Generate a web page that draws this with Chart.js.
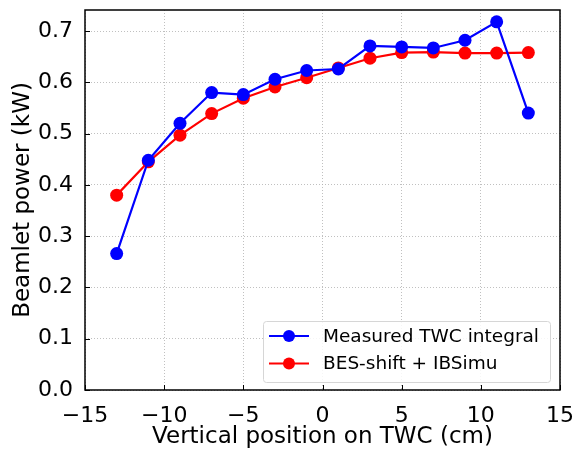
<!DOCTYPE html>
<html>
<head>
<meta charset="utf-8">
<script src="https://cdn.jsdelivr.net/npm/chart.js@4"></script>
<style>
  html, body { margin: 0; padding: 0; background: #fff; }
  #wrap { width: 576px; height: 449px; }
</style>
</head>
<body>
<div id="wrap"><canvas id="chart" width="576" height="449"></canvas></div>
<script>
// positions on the TWC (cm)
var positions = [-13, -11, -9, -7, -5, -3, -1, 1, 3, 5, 7, 9, 11, 13];
// beamlet power (kW)
var measured = [0.266, 0.448, 0.520, 0.580, 0.576, 0.606, 0.623, 0.626, 0.671, 0.669, 0.667, 0.682, 0.718, 0.540];
var simulated = [0.380, 0.445, 0.497, 0.539, 0.569, 0.591, 0.609, 0.628, 0.647, 0.658, 0.659, 0.657, 0.657, 0.658];
var xTicks = [-15, -10, -5, 0, 5, 10, 15];
var yTicks = [0.0, 0.1, 0.2, 0.3, 0.4, 0.5, 0.6, 0.7];

var FONT = "'DejaVu Sans', sans-serif";

function pts(ys) {
  return positions.map(function (x, i) { return { x: x, y: ys[i] }; });
}

// inward ticks, frame and legend box, matplotlib style
var decor = {
  id: 'decor',
  afterDraw: function (chart) {
    var ctx = chart.ctx, a = chart.chartArea;
    var xs = chart.scales.x, ys = chart.scales.y;
    ctx.save();
    ctx.strokeStyle = '#000';
    ctx.lineWidth = 1;
    ctx.beginPath();
    xTicks.forEach(function (v) {
      var px = Math.round(xs.getPixelForValue(v)) + 0.5;
      ctx.moveTo(px, a.bottom); ctx.lineTo(px, a.bottom - 5);
    });
    yTicks.forEach(function (v) {
      var py = Math.round(ys.getPixelForValue(v)) + 0.5;
      ctx.moveTo(a.left, py); ctx.lineTo(a.left + 5, py);
    });
    ctx.stroke();
    ctx.lineWidth = 1.5;
    ctx.strokeRect(a.left, a.top, a.right - a.left, a.bottom - a.top);

    // legend
    var bx = 263, by = 321, bw = 287, bh = 61;
    ctx.fillStyle = 'rgba(255,255,255,0.85)';
    ctx.strokeStyle = '#d6d6d6';
    ctx.lineWidth = 1;
    ctx.beginPath();
    if (ctx.roundRect) ctx.roundRect(bx + 0.5, by + 0.5, bw, bh, 3); else ctx.rect(bx + 0.5, by + 0.5, bw, bh);
    ctx.fill(); ctx.stroke();
    ctx.font = '18.5px ' + FONT;
    ctx.textBaseline = 'middle';
    chart.data.datasets.forEach(function (ds, i) {
      var cy = by + 15 + i * 27.5;
      ctx.strokeStyle = ds.borderColor;
      ctx.lineWidth = 2.2;
      ctx.beginPath(); ctx.moveTo(bx + 6, cy); ctx.lineTo(bx + 46, cy); ctx.stroke();
      ctx.fillStyle = ds.pointBackgroundColor;
      ctx.beginPath(); ctx.arc(bx + 26, cy, 6, 0, Math.PI * 2); ctx.fill();
      ctx.fillStyle = '#000';
      ctx.fillText(ds.label, bx + 60, cy + 1);
    });
    ctx.restore();
  }
};

new Chart(document.getElementById('chart'), {
  type: 'line',
  data: {
    datasets: [
      {
        label: 'Measured TWC integral',
        data: pts(measured),
        borderColor: '#0000ff',
        backgroundColor: '#0000ff',
        pointBackgroundColor: '#0000ff',
        pointBorderWidth: 0,
        pointRadius: 6.5,
        borderWidth: 2.2,
        tension: 0
      },
      {
        label: 'BES-shift + IBSimu',
        data: pts(simulated),
        borderColor: '#ff0000',
        backgroundColor: '#ff0000',
        pointBackgroundColor: '#ff0000',
        pointBorderWidth: 0,
        pointRadius: 6.5,
        borderWidth: 2.2,
        tension: 0
      }
    ]
  },
  options: {
    responsive: false,
    animation: false,
    clip: false,
    layout: { padding: { top: 10, right: 16, left: 0, bottom: 0 } },
    plugins: { legend: { display: false }, tooltip: { enabled: false } },
    scales: {
      x: {
        type: 'linear',
        min: -15, max: 15,
        afterBuildTicks: function (s) { s.ticks = xTicks.map(function (v) { return { value: v }; }); },
        afterFit: function (s) { s.height = 59; s.paddingLeft = 0; s.paddingRight = 0; },
        grid: { color: '#b0b0b0', borderDash: [1, 2], drawTicks: false, lineWidth: 0.8 },
        border: { display: false, dash: [1, 2] },
        ticks: {
          color: '#000', padding: 13,
          font: { family: FONT, size: 22 },
          callback: function (v) { return String(v).replace('-', '\u2212'); }
        },
        title: {
          display: true, text: 'Vertical position on TWC (cm)', color: '#000',
          font: { family: FONT, size: 23 }, padding: { top: 0, bottom: -2 }
        }
      },
      y: {
        type: 'linear',
        min: 0, max: 0.741,
        afterBuildTicks: function (s) { s.ticks = yTicks.map(function (v) { return { value: v }; }); },
        afterFit: function (s) { s.width = 85; s.paddingTop = 0; s.paddingBottom = 0; },
        grid: { color: '#b0b0b0', borderDash: [1, 2], drawTicks: false, lineWidth: 0.8 },
        border: { display: false, dash: [1, 2] },
        ticks: {
          color: '#000', padding: 12,
          font: { family: FONT, size: 22 },
          callback: function (v) { return v.toFixed(1); }
        },
        title: {
          display: true, text: 'Beamlet power (kW)', color: '#000',
          font: { family: FONT, size: 23 }, padding: { top: 9, bottom: 0 }
        }
      }
    }
  },
  plugins: [decor]
});
</script>
</body>
</html>
